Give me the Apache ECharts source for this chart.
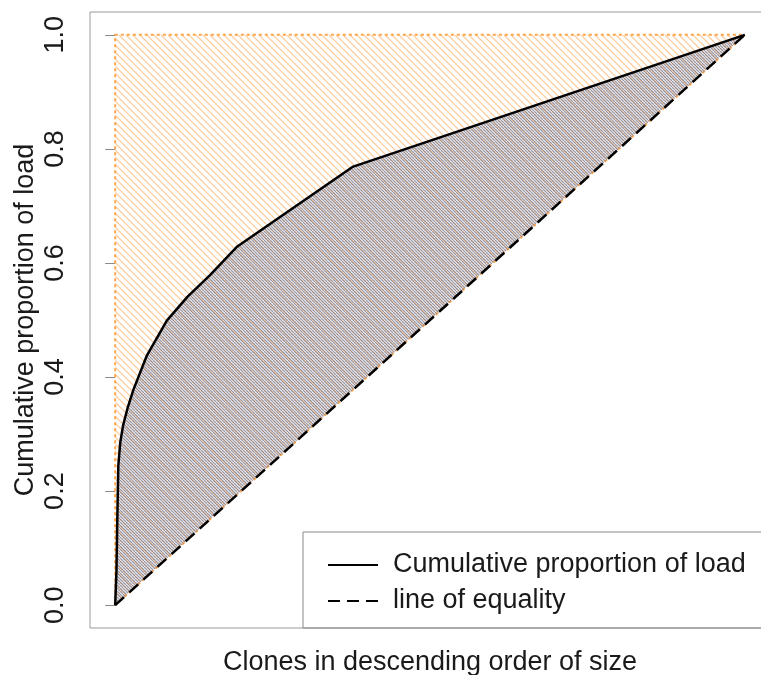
<!DOCTYPE html>
<html>
<head>
<meta charset="utf-8">
<script src="https://cdn.jsdelivr.net/npm/echarts@6/dist/echarts.min.js"></script>
<style>
html,body{margin:0;padding:0;background:#fff;}
#chart{width:761px;height:675px;}
</style>
</head>
<body>
<div id="chart"></div>
<script>
// ---- data ----
const curveX = [0, 0.002, 0.0035, 0.005, 0.008, 0.0125, 0.020, 0.029, 0.050, 0.082, 0.115, 0.151, 0.194, 0.378, 1];
const curveY = [0, 0.06, 0.16, 0.245, 0.285, 0.315, 0.347, 0.378, 0.437, 0.499, 0.541, 0.579, 0.629, 0.769, 1];
const equalityX = [0, 1];
const equalityY = [0, 1];
const triangleX = [0, 0, 1];
const triangleY = [0, 1, 1];
const yTicks = [0, 0.2, 0.4, 0.6, 0.8, 1.0];
const seriesNames = ['Cumulative proportion of load', 'line of equality'];
const xTitle = 'Clones in descending order of size';
const yTitle = 'Cumulative proportion of load';

function hatch(size, color, width) {
  const c = document.createElement('canvas');
  c.width = size; c.height = size;
  const ctx = c.getContext('2d');
  ctx.strokeStyle = color; ctx.lineWidth = width;
  for (let k = -1; k <= 1; k++) {
    ctx.beginPath();
    ctx.moveTo(0, k * size);
    ctx.lineTo(size, size + k * size);
    ctx.stroke();
  }
  return c;
}
const orangeHatch = hatch(7, 'rgba(255,170,90,0.7)', 1.1);
const grayHatch = hatch(3, 'rgba(118,118,138,0.75)', 1.3);

const FONT = 'Liberation Sans, Arial, sans-serif';
const chart = echarts.init(document.getElementById('chart'), null, {renderer: 'canvas'});

function polygonSeries(xs, ys, style, z) {
  return {
    type: 'custom',
    coordinateSystem: 'cartesian2d',
    silent: true,
    z: z,
    data: [[0, 0]],
    renderItem: function (params, api) {
      const pts = xs.map((x, i) => api.coord([x, ys[i]]));
      return { type: 'polygon', shape: { points: pts }, style: style };
    }
  };
}

chart.setOption({
  animation: false,
  backgroundColor: '#fff',
  grid: { left: 90, top: 12, width: 680, height: 616, show: true, borderColor: '#9a9a9a', borderWidth: 1,
          containLabel: false, outerBoundsMode: 'none' },
  xAxis: {
    type: 'value', min: -0.04, max: 1.04,
    axisLine: { show: false }, axisTick: { show: false }, axisLabel: { show: false }, splitLine: { show: false },
    name: xTitle, nameLocation: 'middle', nameGap: 21,
    nameTextStyle: { fontSize: 27, color: '#1a1a1a', fontFamily: FONT }
  },
  yAxis: {
    type: 'value', min: -0.04, max: 1.04,
    axisLine: { show: false },
    splitLine: { show: false },
    axisTick: { show: true, length: 10, customValues: yTicks, lineStyle: { color: '#8a8a8a', width: 1 } },
    axisLabel: { show: true, customValues: yTicks, rotate: 90, margin: 21, fontSize: 27, color: '#1a1a1a', fontFamily: FONT,
      formatter: v => Number(v).toFixed(1) },
    name: yTitle, nameLocation: 'middle', nameGap: 51, nameRotate: 90, nameMoveOverlap: false,
    nameTextStyle: { fontSize: 27, color: '#1a1a1a', fontFamily: FONT }
  },
  legend: {
    orient: 'vertical', left: 303, top: 532,
    padding: [18, 40, 12, 24],
    borderColor: '#8a8a8a', borderWidth: 1, borderRadius: 0,
    itemWidth: 50, itemHeight: 14, itemGap: 6,
    itemStyle: { opacity: 0 },
    textStyle: { fontSize: 27, color: '#1a1a1a', fontFamily: FONT, lineHeight: 30, padding: [0, 0, 0, 10] },
    data: seriesNames
  },
  series: [
    polygonSeries(triangleX, triangleY, { fill: { image: orangeHatch, repeat: 'repeat' }, stroke: '#ffa54a', lineWidth: 2, lineDash: [3, 3] }, 1),
    polygonSeries(curveX, curveY, { fill: { image: grayHatch, repeat: 'repeat' }, stroke: null }, 2),
    {
      type: 'line', name: seriesNames[1], z: 4,
      data: equalityX.map((x, i) => [x, equalityY[i]]),
      showSymbol: false, symbol: 'none',
      lineStyle: { color: '#000', width: 2.5, type: [12, 7] },
      itemStyle: { color: '#000' }
    },
    {
      type: 'line', name: seriesNames[0], z: 5,
      data: curveX.map((x, i) => [x, curveY[i]]),
      showSymbol: false, symbol: 'none',
      lineStyle: { color: '#000', width: 2.5 },
      itemStyle: { color: '#000' }
    }
  ]
});
</script>
</body>
</html>
